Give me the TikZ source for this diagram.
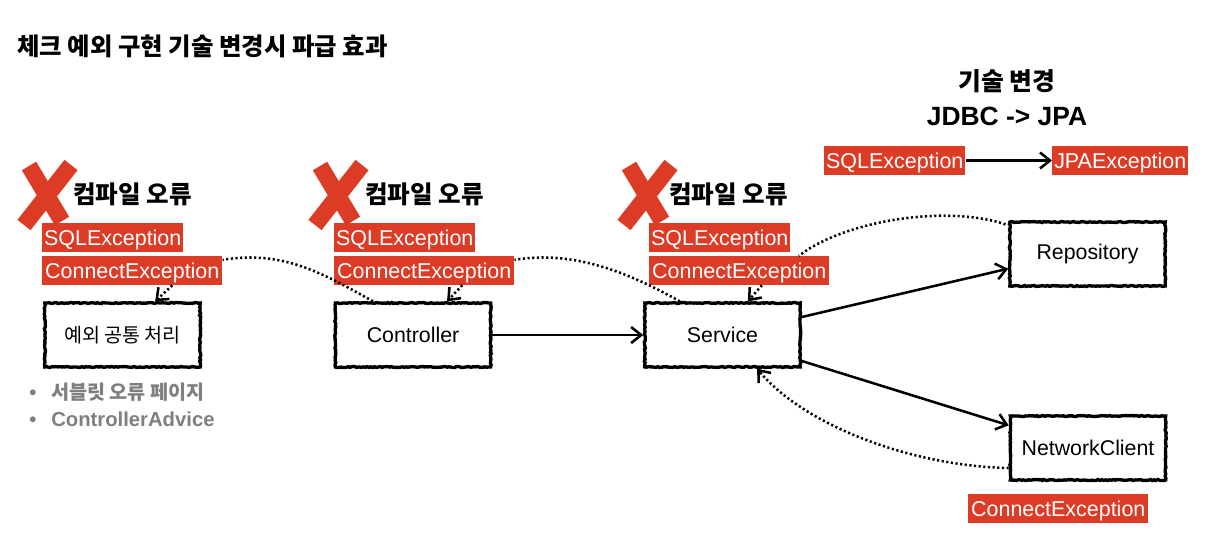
\documentclass[tikz,border=0pt]{standalone}
\usepackage{fontspec}
\setmainfont{Liberation Sans}
\newfontfamily\krfont{Noto Sans CJK KR}
\usetikzlibrary{arrows.meta,decorations.pathmorphing}
\definecolor{tagred}{HTML}{DC3B26}
\definecolor{notegray}{HTML}{7F7F7F}

\begin{document}
\begin{tikzpicture}[
    x=0.75pt,y=-0.75pt,
    exctag/.style={fill=tagred,text=white,inner sep=0pt,minimum height=21.75pt,
        text height=15pt,text depth=3.75pt,font=\fontsize{16.1}{18}\selectfont},
    sqltag/.style={exctag,minimum width=105.75pt},
    conntag/.style={exctag,minimum width=135pt},
    boxnode/.style={draw=black,line width=2.5pt,minimum width=116.5pt,minimum height=48pt,
        inner sep=0pt,font=\fontsize{16}{18}\selectfont,
        decorate,decoration={random steps,segment length=1.4pt,amplitude=0.4pt}},
    errlabel/.style={anchor=west,font=\krfont\bfseries\fontsize{18.4}{20}\selectfont},
    note/.style={anchor=west,text=notegray,inner sep=0pt,font=\bfseries\fontsize{15.2}{18}\selectfont},
    flow/.style={draw=black,line width=1.9pt,-{Straight Barb[length=7.5pt,width=12pt]}},
    dotflow/.style={draw=black,line width=1.9pt,dash pattern=on 1.6pt off 1.9pt},
    dotarrow/.style={dotflow,-{Straight Barb[length=7.5pt,width=12pt]}},
    redx/.style={draw=tagred,line width=12.5pt}
]
    \useasboundingbox (0,0) rectangle (1226,544);

    \node[anchor=west,inner sep=0pt,font=\krfont\bfseries\fontsize{18.3}{20}\selectfont]
        (title) at (17,46) {체크 예외 구현 기술 변경시 파급 효과};
    \node[font=\krfont\bfseries\fontsize{18.6}{20}\selectfont] (change) at (1007,81) {기술 변경};
    \node[font=\bfseries\fontsize{19.8}{20}\selectfont] (jdbcjpa) at (1007,116) {JDBC -> JPA};

    % three columns of compile errors
    \foreach \col/\xpos/\xlab/\xtag in {a/0/73/42,b/291/365/334,c/600/669/649} {
        \draw[redx] (\xpos+29,166) -- (\xpos+62,221);
        \draw[redx] (\xpos+71,165) -- (\xpos+24,225);
        \node[errlabel,inner sep=0pt] (err-\col) at (\xlab,194) {컴파일 오류};
        \node[sqltag,anchor=west] (sql-\col) at (\xtag,237.5) {SQLException};
        \node[conntag,anchor=west] (conn-\col) at (\xtag,270.5) {ConnectException};
    }

    \node[boxnode] (handler) at (122.5,335) {\krfont\fontsize{14.7}{18}\selectfont 예외 공통 처리};
    \node[boxnode] (controller) at (413,335) {Controller};
    \node[boxnode] (service) at (722.5,335) {Service};
    \node[boxnode] (repository) at (1087.5,254) {Repository};
    \node[boxnode] (client) at (1088,448) {NetworkClient};

    \node[note] (note-a) at (29,392) {\makebox[16.5pt][l]{•}\krfont\fontsize{14.7}{18}\selectfont 서블릿 오류 페이지};
    \node[note] (note-b) at (29,419) {\makebox[16.5pt][l]{•}ControllerAdvice};

    \node[sqltag,anchor=west] (sql-old) at (824,160.5) {SQLException};
    \node[exctag,anchor=west,minimum width=102pt] (jpa-new) at (1052,160.5) {JPAException};
    \node[conntag,anchor=west] (conn-net) at (968,508.5) {ConnectException};

    % solid calls
    \draw[flow] (sql-old.east) -- (jpa-new.west);
    \draw[flow] (controller.east) -- (service.west);
    \draw[flow] ([yshift=13.5pt]service.east) -- ([yshift=-11pt]repository.west);
    \draw[flow] ([yshift=-19.5pt]service.east) -- ([yshift=17pt]client.west);

    % thrown exceptions
    \draw[dotflow] ([xshift=-30pt]controller.north) .. controls +(-50,-28) and +(60,-10) .. ([yshift=8pt]conn-a.east);
    \draw[dotflow] ([xshift=-32pt]service.north) .. controls +(-50,-28) and +(60,-10) .. ([yshift=8pt]conn-b.east);
    \draw[dotflow] ([xshift=-2pt,yshift=-3pt]repository.north west) .. controls +(-60,-20) and +(45,-35) .. ([xshift=-23pt,yshift=11pt]conn-c.east);
    \draw[dotarrow] ([xshift=30pt]conn-a.south) -- ([xshift=24.5pt]handler.north);
    \draw[dotarrow] ([xshift=28.5pt]conn-b.south) -- ([xshift=25.5pt]controller.north);
    \draw[dotarrow] ([xshift=17pt]conn-c.south) -- ([xshift=19pt]service.north);
    \draw[dotarrow] ([yshift=-15pt]client.west) .. controls +(-100,-2) and +(45,55) .. ([xshift=26pt]service.south);
\end{tikzpicture}
\end{document}
